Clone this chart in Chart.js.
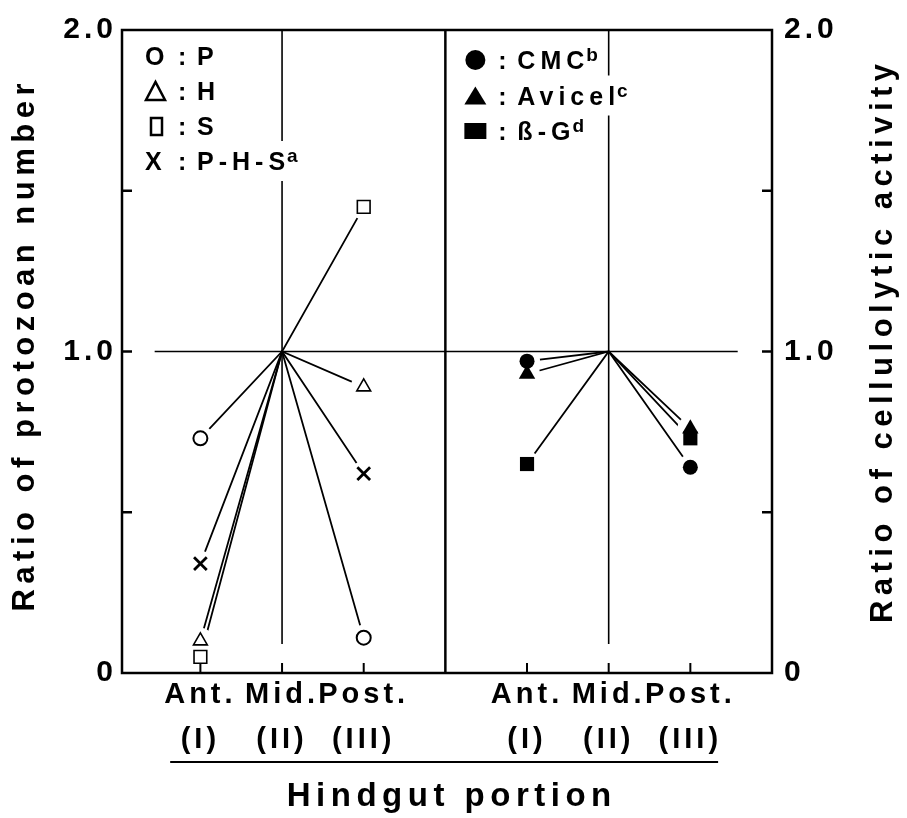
<!DOCTYPE html>
<html>
<head>
<meta charset="utf-8">
<script src="https://cdn.jsdelivr.net/npm/chart.js@4.4.1/dist/chart.umd.min.js"></script>
<style>
  html, body { margin: 0; padding: 0; background: #fff; }
</style>
</head>
<body>
<canvas id="chart" width="907" height="818"></canvas>
<script>
// hindgut portions, left panel at x=1..3, right panel at x=5..7
const portions = ['Ant.', 'Mid.', 'Post.'];
const romans = ['(I)', '(II)', '(III)'];
const leftX = [1, 2, 3];
const rightX = [5, 6, 7];
const yLabels = [0, 1, 2];
const yMarks = [0.5, 1, 1.5];

// ratio of protozoan number
const ratioP = [0.73, 1.0, 0.11];
const ratioH = [0.10, 1.0, 0.89];
const ratioS = [0.05, 1.0, 1.45];
const ratioPHS = [0.34, 1.0, 0.62];

// ratio of cellulolytic activity
const ratioCMC = [0.97, 1.0, 0.64];
const ratioAvicel = [0.93, 1.0, 0.76];
const ratioBG = [0.65, 1.0, 0.73];

const leftLegend = [
  { sym: 'O', label: 'P', sup: '' },
  { sym: 'tri', label: 'H', sup: '' },
  { sym: 'box', label: 'S', sup: '' },
  { sym: 'X', label: 'P-H-S', sup: 'a' }
];
const rightLegend = [
  { sym: 'dot', label: 'CMC', sup: 'b' },
  { sym: 'ftri', label: 'Avicel', sup: 'c' },
  { sym: 'fbox', label: 'ß-G', sup: 'd' }
];

const FONT = '"Liberation Sans", Arial, sans-serif';
Chart.defaults.font.family = FONT;
Chart.defaults.color = '#000';

const series = [
  { xs: leftX, vals: ratioP, style: 'circle', r: 7, fill: '#fff', bw: 2 },
  { xs: leftX, vals: ratioH, style: 'triangle', r: 8, fill: '#fff', bw: 1.6 },
  { xs: leftX, vals: ratioS, style: 'rect', r: 9, fill: '#fff', bw: 1.6 },
  { xs: leftX, vals: ratioPHS, style: 'crossRot', r: 9, fill: '#fff', bw: 2.8 },
  { xs: rightX, vals: ratioCMC, style: 'circle', r: 7.5, fill: '#000', bw: 0 },
  { xs: rightX, vals: ratioAvicel, style: 'triangle', r: 9.5, fill: '#000', bw: 0 },
  { xs: rightX, vals: ratioBG, style: 'rect', r: 10, fill: '#000', bw: 0 }
];

// line -> white halo (gap round the marker) -> marker
const datasets = [];
series.forEach(s => {
  const pts = s.vals.map((v, i) => ({ x: s.xs[i], y: v }));
  const ends = [pts[0], pts[2]];
  datasets.push({ data: pts, order: 3, showLine: true, borderColor: '#000', borderWidth: 1.8, pointRadius: 0 });
  datasets.push({ data: ends, order: 2, showLine: false, pointRadius: 13, pointBackgroundColor: '#fff', pointBorderColor: '#fff', pointBorderWidth: 0 });
  datasets.push({ data: ends, order: 1, showLine: false, pointStyle: s.style, pointRadius: s.r,
    pointBackgroundColor: s.fill, pointBorderColor: '#000', pointBorderWidth: s.bw });
});

// wide letter spacing of the original lettering
const spacing = {
  id: 'spacing',
  beforeUpdate(chart) { chart.ctx.letterSpacing = '4px'; },
  beforeDraw(chart) { chart.ctx.letterSpacing = '4px'; }
};

function drawLegend(ctx, rows, x0, y0, step) {
  rows.forEach((row, i) => {
    const cy = y0 + step * i;
    ctx.letterSpacing = '5px';
    ctx.font = 'bold 25px ' + FONT;
    const w = ctx.measureText(row.label).width;
    ctx.font = 'bold 19px ' + FONT;
    const ws = row.sup ? ctx.measureText(row.sup).width : 0;
    ctx.fillStyle = '#fff';
    ctx.fillRect(x0 - 2, cy - 20, 52 + w + ws + 2, 40);
    ctx.fillStyle = '#000';
    ctx.strokeStyle = '#000';
    ctx.lineWidth = 2.5;
    const base = cy + 9;
    ctx.font = 'bold 25px ' + FONT;
    if (row.sym === 'O' || row.sym === 'X') ctx.fillText(row.sym, x0, base);
    if (row.sym === 'tri') {
      ctx.beginPath(); ctx.moveTo(x0 + 1, cy + 9); ctx.lineTo(x0 + 20, cy + 9); ctx.lineTo(x0 + 10.5, cy - 9); ctx.closePath(); ctx.stroke();
    }
    if (row.sym === 'box') ctx.strokeRect(x0 + 6, cy - 8, 11, 17);
    if (row.sym === 'dot') { ctx.beginPath(); ctx.arc(x0 + 10, cy, 10, 0, Math.PI * 2); ctx.fill(); }
    if (row.sym === 'ftri') {
      ctx.beginPath(); ctx.moveTo(x0 - 1, cy + 9); ctx.lineTo(x0 + 21, cy + 9); ctx.lineTo(x0 + 10, cy - 9); ctx.closePath(); ctx.fill();
    }
    if (row.sym === 'fbox') ctx.fillRect(x0 - 1, cy - 8, 22, 16);
    ctx.fillText(':', x0 + 33, base);
    ctx.fillText(row.label, x0 + 52, base);
    if (row.sup) {
      ctx.font = 'bold 19px ' + FONT;
      ctx.fillText(row.sup, x0 + 52 + w - 3, base - 8);
    }
  });
}

function drawTitle(ctx, text, x, y, size, rot) {
  ctx.save();
  ctx.translate(x, y);
  ctx.rotate(rot);
  ctx.font = 'bold ' + size + 'px ' + FONT;
  ctx.letterSpacing = '5.5px';
  ctx.fillStyle = '#000';
  ctx.textAlign = 'center';
  ctx.textBaseline = 'middle';
  ctx.fillText(text, 2.75, 0);
  ctx.restore();
}

const frame = {
  id: 'frame',
  afterDatasetsDraw(chart) {
    const { ctx, chartArea: ca, scales } = chart;
    const xs = scales.x, ys = scales.y;
    const line = (x1, y1, x2, y2, lw) => {
      ctx.lineWidth = lw; ctx.beginPath(); ctx.moveTo(x1, y1); ctx.lineTo(x2, y2); ctx.stroke();
    };
    ctx.save();
    ctx.strokeStyle = '#000';
    ctx.lineCap = 'butt';
    ctx.lineWidth = 2.5;
    ctx.strokeRect(ca.left, ca.top, ca.right - ca.left, ca.bottom - ca.top);
    const xd = xs.getPixelForValue(4);
    line(xd, ca.top, xd, ca.bottom, 2.5);
    // reference lines at ratio 1.0 and at the middle portion
    line(xs.getPixelForValue(0.44), ys.getPixelForValue(1), xs.getPixelForValue(7.58), ys.getPixelForValue(1), 1.6);
    [2, 6].forEach(v => {
      const px = xs.getPixelForValue(v);
      line(px, ca.top, px, ys.getPixelForValue(0.09), 1.6);
    });
    // inward ticks
    yMarks.forEach(v => {
      const py = ys.getPixelForValue(v);
      line(ca.left, py, ca.left + 10, py, 2.5);
      line(ca.right - 10, py, ca.right, py, 2.5);
    });
    leftX.concat(rightX).forEach(v => {
      const px = xs.getPixelForValue(v);
      line(px, ca.bottom, px, ca.bottom - 10, 2);
    });
    // underline below the portion labels
    line(xs.getPixelForValue(0.63), ca.bottom + 89, xs.getPixelForValue(7.34), ca.bottom + 89, 2);

    drawLegend(ctx, leftLegend, ca.left + 23, ca.top + 26, 35);
    drawLegend(ctx, rightLegend, xd + 20, ca.top + 30, 35.5);
    ctx.restore();

    // axis titles
    const midY = (ca.top + ca.bottom) / 2;
    drawTitle(ctx, 'Ratio of protozoan number', 25, midY - 4, 31, -Math.PI / 2);
    drawTitle(ctx, 'Ratio of cellulolytic activity', chart.width - 24, midY - 8, 31, -Math.PI / 2);
    drawTitle(ctx, 'Hindgut portion', (ca.left + ca.right) / 2 + 2, ca.bottom + 124, 33, 0);
  }
};

const yTickOpts = {
  padding: 5,
  font: { size: 30, weight: 'bold' },
  callback: v => (v === 0 ? '0' : v.toFixed(1))
};

new Chart(document.getElementById('chart'), {
  type: 'scatter',
  data: { datasets },
  options: {
    responsive: false,
    animation: false,
    events: [],
    layout: { padding: { top: 20, left: 0, right: 0, bottom: 0 } },
    plugins: { legend: { display: false }, tooltip: { enabled: false } },
    scales: {
      x: {
        type: 'linear', min: 0.04, max: 8,
        grid: { display: false, drawTicks: false },
        border: { display: false },
        afterBuildTicks: sc => { sc.ticks = leftX.concat(rightX).map(v => ({ value: v })); },
        ticks: {
          padding: 0, autoSkip: false, maxRotation: 0,
          font: { size: 29, weight: 'bold', lineHeight: 1.55 },
          callback: (v, i) => [portions[i % 3], romans[i % 3]]
        },
        afterFit: sc => { sc.height = 145; }
      },
      y: {
        position: 'left', min: 0, max: 2,
        grid: { display: false, drawTicks: false },
        border: { display: false },
        afterBuildTicks: sc => { sc.ticks = yLabels.map(v => ({ value: v })); },
        ticks: yTickOpts,
        afterFit: sc => { sc.width = 122; }
      },
      y2: {
        position: 'right', min: 0, max: 2,
        grid: { display: false, drawTicks: false },
        border: { display: false },
        afterBuildTicks: sc => { sc.ticks = yLabels.map(v => ({ value: v })); },
        ticks: Object.assign({}, yTickOpts, { padding: 12 }),
        afterFit: sc => { sc.width = 135; }
      }
    }
  },
  plugins: [spacing, frame]
});
</script>
</body>
</html>
